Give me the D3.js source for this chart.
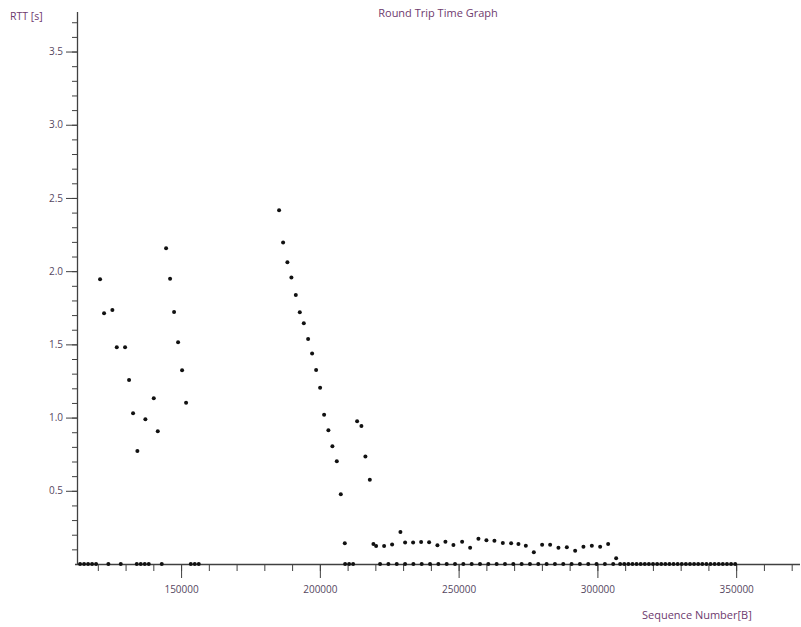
<!DOCTYPE html>
<html>
<head>
<meta charset="utf-8">
<script src="https://cdn.jsdelivr.net/npm/d3@7"></script>
<style>
  body { margin: 0; background: #fff; }
  svg text { font-family: "Open Sans", sans-serif; }
</style>
</head>
<body>
<div id="chart"></div>
<script>
// Sequence numbers [B] of the samples lying on the axis (RTT = 0)
const zeroSeq = [
  113604, 115045, 116487, 117928, 119369, 123802, 128270,
  134036, 135477, 136919, 138360, 143045,
  153496, 154937, 156378,
  209099, 210540, 211982,
  221700, 224700, 227700, 230700, 233700, 236700, 239700, 242700,
  245700, 248700, 251700, 254700, 257700, 260700, 263700, 266700,
  269700, 272700, 275700, 278700, 281700, 284700, 287700, 290700,
  293700, 296700, 299700, 302700, 305700,
  308200, 309680, 311160, 312640, 314120, 315600, 317080, 318560,
  320040, 321520, 323000, 324480, 325960, 327440, 328920, 330400,
  331880, 333360, 334840, 336320, 337800, 339280, 340760, 342240,
  343720, 345200, 346680, 348160, 349640
];

// Samples with a measured round trip time
const rttSeq = [
  120811, 122252, 125243, 126829, 129820, 131261, 132703, 134252,
  137135, 140162, 141604, 144595, 146036, 147477, 148919, 150360, 151802,
  185315, 186757, 188306, 189748, 191333, 192775, 194216, 195766,
  197207, 198649, 200090, 201531, 203081, 204522, 206108, 207549, 208991,
  213423, 214973, 216414, 218000,
  219297, 220270, 223153, 226036, 229027, 230721, 233604, 236486,
  239369, 242360, 245243, 248126, 251261, 254144, 257135, 260018,
  262901, 265928, 268919, 271549, 274216, 277099, 280090, 282973,
  285964, 288991, 291982, 294973, 298000, 300991, 303874, 306757
];
const rttVal = [
  1.945, 1.712, 1.735, 1.480, 1.480, 1.257, 1.029, 0.772,
  0.988, 1.132, 0.906, 2.156, 1.949, 1.721, 1.514, 1.323, 1.102,
  2.416, 2.195, 2.061, 1.956, 1.837, 1.719, 1.644, 1.537,
  1.437, 1.325, 1.204, 1.020, 0.913, 0.804, 0.701, 0.476, 0.141,
  0.975, 0.943, 0.735, 0.576,
  0.137, 0.123, 0.123, 0.134, 0.219, 0.146, 0.146, 0.150,
  0.148, 0.128, 0.152, 0.130, 0.152, 0.111, 0.173, 0.162,
  0.159, 0.143, 0.141, 0.137, 0.125, 0.080, 0.132, 0.132,
  0.111, 0.114, 0.091, 0.118, 0.125, 0.118, 0.137, 0.039
];

const xMajor = [150000, 200000, 250000, 300000, 350000];
const yMajor = [0.5, 1.0, 1.5, 2.0, 2.5, 3.0, 3.5];

const width = 801, height = 627;
const labelColor = "#55475f";
const titleColor = "#6e3a6e";

const svg = d3.select("#chart").append("svg")
  .attr("width", width)
  .attr("height", height);

const x = d3.scaleLinear().domain([112500, 373000]).range([77, 800]);
const y = d3.scaleLinear().domain([0, 3.77]).range([564, 12]);

// minor ticks
svg.append("g")
  .attr("transform", "translate(0,564)")
  .call(d3.axisBottom(x).tickValues(d3.range(120000, 373000, 10000)).tickSize(7).tickFormat(""))
  .call(g => g.select(".domain").remove());
svg.append("g")
  .attr("transform", "translate(77,0)")
  .call(d3.axisLeft(y).tickValues(d3.range(1, 38).map(d => d / 10)).tickSize(5).tickFormat(""))
  .call(g => g.select(".domain").remove());

// major ticks with labels
const xAxis = svg.append("g")
  .attr("transform", "translate(0,564)")
  .call(d3.axisBottom(x).tickValues(xMajor).tickSize(14).tickPadding(8).tickFormat(d3.format("d")));
xAxis.select(".domain").attr("d", "M75,0.5H800");

const yAxis = svg.append("g")
  .attr("transform", "translate(77,0)")
  .call(d3.axisLeft(y).tickValues(yMajor).tickSize(11).tickPadding(3).tickFormat(d3.format(".1f")));
yAxis.select(".domain").attr("d", "M0.5,564V12");

svg.selectAll(".tick line").attr("stroke", "#404040");
svg.selectAll(".domain").attr("stroke", "#404040").attr("stroke-width", 1.3);
svg.selectAll(".tick text").attr("fill", labelColor).style("font-size", "10px");

// points
svg.append("g").selectAll("circle.zero")
  .data(zeroSeq)
  .join("circle")
  .attr("cx", d => x(d))
  .attr("cy", y(0))
  .attr("r", 2)
  .attr("fill", "#111");

svg.append("g").selectAll("circle.rtt")
  .data(rttSeq)
  .join("circle")
  .attr("cx", d => x(d))
  .attr("cy", (d, i) => y(rttVal[i]))
  .attr("r", 2)
  .attr("fill", "#111");

// titles
svg.append("text")
  .attr("x", 438).attr("y", 17)
  .attr("text-anchor", "middle")
  .attr("fill", titleColor)
  .style("font-size", "11px")
  .text("Round Trip Time Graph");

svg.append("text")
  .attr("x", 10).attr("y", 20)
  .attr("fill", titleColor)
  .style("font-size", "10.5px")
  .text("RTT [s]");

svg.append("text")
  .attr("x", 642).attr("y", 619)
  .attr("fill", titleColor)
  .style("font-size", "11px")
  .text("Sequence Number[B]");
</script>
</body>
</html>
